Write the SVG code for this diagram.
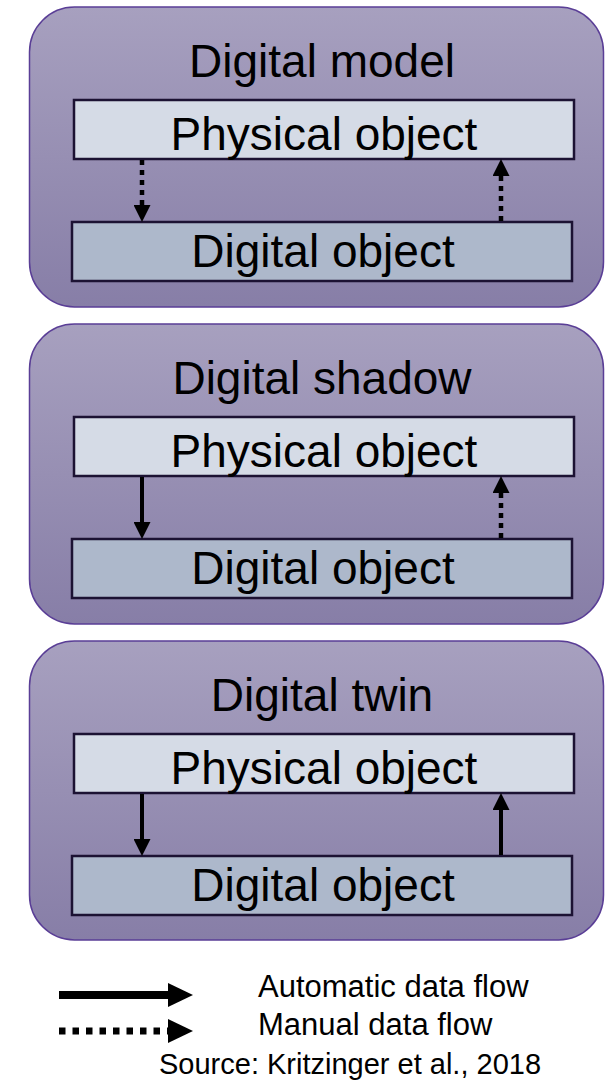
<svg xmlns="http://www.w3.org/2000/svg" width="605" height="1087" viewBox="0 0 605 1087">
  <defs>
    <linearGradient id="panelFill" x1="0" y1="0" x2="0" y2="1">
      <stop offset="0" stop-color="#a7a0bf"/>
      <stop offset="1" stop-color="#877ea7"/>
    </linearGradient>
    <marker id="head" viewBox="0 0 17 17" markerWidth="17" markerHeight="17" markerUnits="userSpaceOnUse" refX="0" refY="8.5" orient="auto">
      <path d="M0,0 L17,8.5 L0,17 z" fill="#000"/>
    </marker>
    <marker id="legendHead" viewBox="0 0 25 24" markerWidth="25" markerHeight="24" markerUnits="userSpaceOnUse" refX="0" refY="12" orient="auto">
      <path d="M0,0 L25,12 L0,24 z" fill="#000"/>
    </marker>
  </defs>
  <style>
    .panel { fill: url(#panelFill); stroke: #5a3e96; stroke-width: 1.5; }
    .phys { fill: #d5dbe6; stroke: #1c1233; stroke-width: 2.5; }
    .digi { fill: #adb8cb; stroke: #1c1233; stroke-width: 2.5; }
    text { font-family: "Liberation Sans", Arial, sans-serif; fill: #000; }
    .big { font-size: 46px; text-anchor: middle; }
    .legend { font-size: 31px; }
    .src { font-size: 29px; }
    .auto { stroke: #000; stroke-width: 4; fill: none; marker-end: url(#head); }
    .manual { stroke: #000; stroke-width: 4.5; fill: none; stroke-dasharray: 5 5; marker-end: url(#head); }
    .legAuto { stroke: #000; stroke-width: 8; fill: none; marker-end: url(#legendHead); }
    .legManual { stroke: #000; stroke-width: 7; fill: none; stroke-dasharray: 6.5 7; marker-end: url(#legendHead); }
  </style>

  <!-- Digital model -->
  <g id="digital-model">
    <rect class="panel" x="29.5" y="7" width="574" height="300" rx="45" ry="45"/>
    <text class="big" x="322" y="77">Digital model</text>
    <g id="dm-physical">
      <rect class="phys" x="74" y="100" width="500" height="59"/>
      <text class="big" x="324" y="150">Physical object</text>
    </g>
    <g id="dm-digital">
      <rect class="digi" x="72" y="222" width="500" height="59"/>
      <text class="big" x="323" y="267">Digital object</text>
    </g>
  </g>

  <!-- Digital shadow -->
  <g id="digital-shadow">
    <rect class="panel" x="29.5" y="324" width="574" height="300" rx="45" ry="45"/>
    <text class="big" x="322" y="394">Digital shadow</text>
    <g id="ds-physical">
      <rect class="phys" x="74" y="417" width="500" height="59"/>
      <text class="big" x="324" y="467">Physical object</text>
    </g>
    <g id="ds-digital">
      <rect class="digi" x="72" y="539" width="500" height="59"/>
      <text class="big" x="323" y="584">Digital object</text>
    </g>
  </g>

  <!-- Digital twin -->
  <g id="digital-twin">
    <rect class="panel" x="29.5" y="641" width="574" height="299" rx="45" ry="45"/>
    <text class="big" x="322" y="711">Digital twin</text>
    <g id="dt-physical">
      <rect class="phys" x="74" y="734" width="500" height="59"/>
      <text class="big" x="324" y="784">Physical object</text>
    </g>
    <g id="dt-digital">
      <rect class="digi" x="72" y="856" width="500" height="59"/>
      <text class="big" x="323" y="901">Digital object</text>
    </g>
  </g>

  <!-- data flows between physical and digital objects -->
  <g id="connectors">
    <path class="manual" d="M142,160 L142,205"/>
    <path class="manual" d="M501,221 L501,176"/>
    <path class="auto" d="M142,477 L142,522"/>
    <path class="manual" d="M501,538 L501,493"/>
    <path class="auto" d="M142,794 L142,839"/>
    <path class="auto" d="M501,855 L501,810"/>
  </g>

  <!-- key -->
  <g id="legend">
    <path class="legAuto" d="M59,995 L168,995"/>
    <text class="legend" x="258" y="997">Automatic data flow</text>
    <path class="legManual" d="M59,1031 L168,1031"/>
    <text class="legend" x="258" y="1035">Manual data flow</text>
    <text class="src" x="159" y="1074">Source: Kritzinger et al., 2018</text>
  </g>
</svg>
